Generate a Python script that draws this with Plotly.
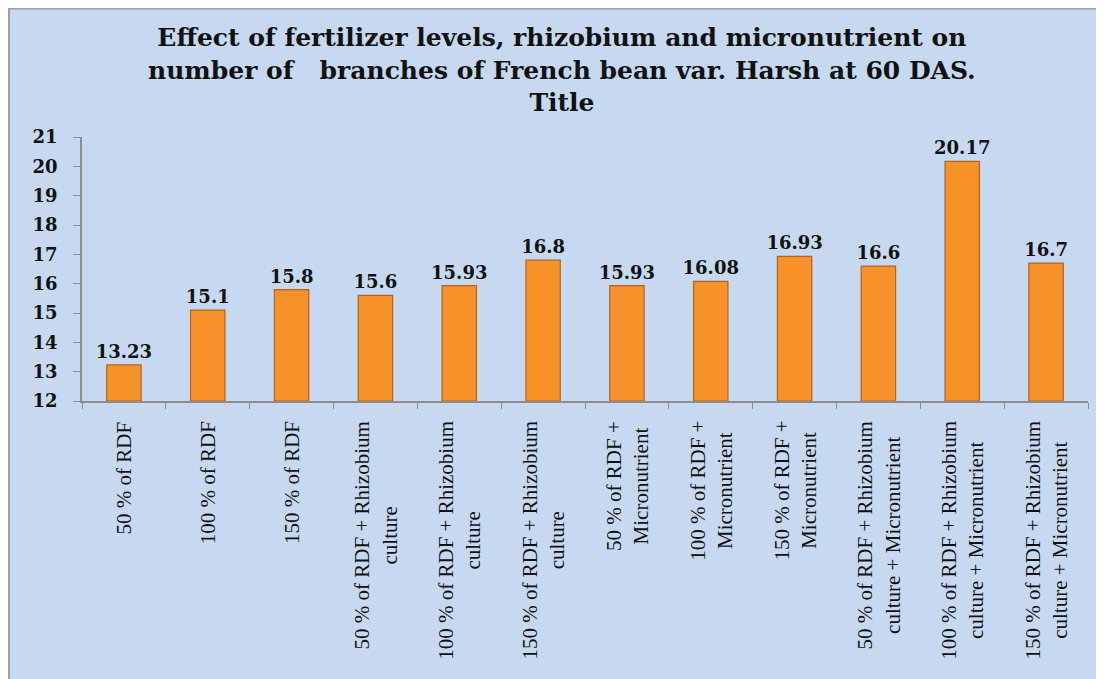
import plotly.graph_objects as go

categories = [
    "50 % of RDF",
    "100 % of RDF",
    "150 % of RDF",
    "50 % of RDF + Rhizobium<br>culture",
    "100 % of RDF + Rhizobium<br>culture",
    "150 % of RDF + Rhizobium<br>culture",
    "50 % of RDF +<br>Micronutrient",
    "100 % of RDF +<br>Micronutrient",
    "150 % of RDF +<br>Micronutrient",
    "50 % of RDF + Rhizobium<br>culture + Micronutrient",
    "100 % of RDF + Rhizobium<br>culture + Micronutrient",
    "150 % of RDF + Rhizobium<br>culture + Micronutrient",
]
values = [13.23, 15.1, 15.8, 15.6, 15.93, 16.8, 15.93, 16.08, 16.93, 16.6, 20.17, 16.7]
value_labels = ["13.23", "15.1", "15.8", "15.6", "15.93", "16.8", "15.93", "16.08", "16.93", "16.6", "20.17", "16.7"]
y_ticks = [12, 13, 14, 15, 16, 17, 18, 19, 20, 21]
y_base = 12

title_text = ("Effect of fertilizer levels, rhizobium and micronutrient on<br>"
              "number of   branches of French bean var. Harsh at 60 DAS.<br>Title")

BG = "#C6D9F0"
serif = "Liberation Serif"
wide_serif = "DejaVu Serif"

W, H = 1096, 671
L, R, T, B = 74, 16, 129, 278
PW, PH = W - L - R, H - T - B

fig = go.Figure()
fig.add_trace(go.Bar(
    x=categories,
    y=[v - y_base for v in values],
    base=y_base,
    text=value_labels,
    textposition="outside",
    constraintext="none",
    textfont=dict(family=wide_serif, size=18, color="#111111", weight="bold"),
    marker=dict(color="#F7922A", line=dict(color="#B5621C", width=1.2)),
    cliponaxis=False,
    hoverinfo="x+y",
))

# panel border
fig.add_shape(type="rect", xref="paper", yref="paper",
              x0=-L / PW + 0.001, x1=(W - L) / PW - 0.004,
              y0=-(B + 20) / PH, y1=(PH + T) / PH - 0.002,
              fillcolor="rgba(0,0,0,0)", line=dict(color="#A0A0A0", width=2), layer="below")

fig.add_annotation(
    text=title_text, xref="paper", yref="paper",
    x=(554 - L) / PW, y=(PH + T - 62) / PH, xanchor="center", yanchor="middle",
    showarrow=False, align="center",
    font=dict(family=wide_serif, size=25, color="#111111", weight="bold"),
)

# category labels, rotated with centred lines
for c in categories:
    fig.add_annotation(
        text=c, x=c, xref="x", y=0, yref="paper",
        xanchor="center", yanchor="top", yshift=-18,
        textangle=-90, align="center", showarrow=False,
        font=dict(family=serif, size=21, color="#111111"),
    )

fig.update_layout(
    width=W, height=H,
    margin=dict(l=L, r=R, t=T, b=B, autoexpand=False),
    paper_bgcolor=BG,
    plot_bgcolor="rgba(0,0,0,0)",
    showlegend=False,
    bargap=0.59,
)
fig.update_xaxes(
    type="category",
    showticklabels=False,
    showline=True, linecolor="#8C8C8C", linewidth=1.5,
    ticks="outside", ticklen=6, tickcolor="#8C8C8C", tickson="boundaries",
    showgrid=False,
)
fig.update_yaxes(
    range=[12, 21],
    tickvals=y_ticks,
    tickfont=dict(family=wide_serif, size=18, color="#111111", weight="bold"),
    showline=True, linecolor="#8C8C8C", linewidth=1.5,
    ticks="outside", ticklen=7, tickcolor="#8C8C8C",
    ticklabelstandoff=12,
    showgrid=False, zeroline=False,
)

fig.write_html("out.html")
